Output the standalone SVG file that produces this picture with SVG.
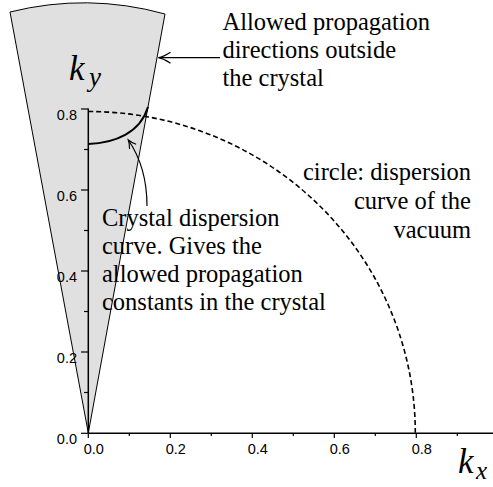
<svg xmlns="http://www.w3.org/2000/svg" width="493" height="487" viewBox="0 0 493 487">
<style>
.lbl{font-family:"Liberation Serif","Times New Roman",serif;font-size:24.5px;fill:#000}
.tick{font-family:"Liberation Sans",Arial,sans-serif;font-size:14.5px;fill:#000}
.var{font-family:"Liberation Serif","Times New Roman",serif;font-style:italic;fill:#000}
.ax{stroke:#000;stroke-width:1.5;fill:none}
.tk{stroke:#000;stroke-width:1.2;fill:none}
.conn{stroke:#000;stroke-width:1.2;fill:none}
</style>
<defs>
<marker id="arrBig" markerUnits="userSpaceOnUse" viewBox="-13 -7 15 14" refX="0" refY="0" markerWidth="15" markerHeight="14" orient="auto">
<path d="M-12,-5.5 Q-5,-1 0,0 Q-5,1 -12,5.5" fill="none" stroke="#000" stroke-width="1.3"/>
</marker>
<marker id="arrSmall" markerUnits="userSpaceOnUse" viewBox="-10 -6 12 12" refX="0" refY="0" markerWidth="12" markerHeight="12" orient="auto">
<path d="M-8,-4 Q-3,-0.8 0,0 Q-3,0.8 -8,4" fill="none" stroke="#000" stroke-width="1.1"/>
</marker>
</defs>
<rect width="493" height="487" fill="#fff"/>
<g id="wedge">
<path d="M88.3,433 L10,12 A305,305 0 0 1 165,14 Z" fill="#e0e0e0" stroke="#000" stroke-width="1"/>
</g>
<g id="axes">
<line class="ax" x1="88.3" y1="108.5" x2="88.3" y2="433"/>
<line class="ax" x1="88.3" y1="433.3" x2="493" y2="433.3"/>
<g class="tk">
<line x1="81" y1="109" x2="88.3" y2="109"/>
<line x1="84" y1="149.5" x2="88.3" y2="149.5"/>
<line x1="81" y1="190" x2="88.3" y2="190"/>
<line x1="84" y1="230.5" x2="88.3" y2="230.5"/>
<line x1="81" y1="271" x2="88.3" y2="271"/>
<line x1="84" y1="311.5" x2="88.3" y2="311.5"/>
<line x1="81" y1="352" x2="88.3" y2="352"/>
<line x1="84" y1="392.5" x2="88.3" y2="392.5"/>
<line x1="81" y1="433.3" x2="88.3" y2="433.3"/>
<line x1="88.3" y1="433.3" x2="88.3" y2="438"/>
<line x1="129.3" y1="433.3" x2="129.3" y2="436"/>
<line x1="170.3" y1="433.3" x2="170.3" y2="438"/>
<line x1="211.3" y1="433.3" x2="211.3" y2="436"/>
<line x1="252.3" y1="433.3" x2="252.3" y2="438"/>
<line x1="293.3" y1="433.3" x2="293.3" y2="436"/>
<line x1="334.3" y1="433.3" x2="334.3" y2="438"/>
<line x1="375.3" y1="433.3" x2="375.3" y2="436"/>
<line x1="416.3" y1="433.3" x2="416.3" y2="438"/>
<line x1="457.3" y1="433.3" x2="457.3" y2="436"/>
</g>
<g class="tick" text-anchor="end">
<text x="77" y="119.5">0.8</text>
<text x="77" y="200.5">0.6</text>
<text x="77" y="281.5">0.4</text>
<text x="77" y="362.5">0.2</text>
<text x="77" y="443.8">0.0</text>
</g>
<g class="tick" text-anchor="middle">
<text x="93.8" y="454">0.0</text>
<text x="175.8" y="454">0.2</text>
<text x="257.8" y="454">0.4</text>
<text x="339.8" y="454">0.6</text>
<text x="421.8" y="454">0.8</text>
</g>
<text class="var" x="69" y="79.5" font-size="35">k</text>
<text class="var" x="89" y="86" font-size="27">y</text>
<text class="var" x="458" y="473" font-size="35">k</text>
<text class="var" x="476" y="479" font-size="25">x</text>
</g>
<g id="vacuum-circle">
<path d="M88.3,111.5 A327,321.5 0 0 1 415.3,433" fill="none" stroke="#000" stroke-width="1.6" stroke-dasharray="5,3"/>
</g>
<g id="crystal-curve">
<path d="M88.3,144 C115,143 140,133 148,107" fill="none" stroke="#000" stroke-width="2"/>
</g>
<g id="connectors">
<line class="conn" x1="220" y1="57.7" x2="158.5" y2="57.7" marker-end="url(#arrBig)"/>
<path class="conn" d="M147,206 C147,178 140,157 128.3,140" marker-end="url(#arrSmall)"/>
</g>
<g id="label-outside">
<text class="lbl" x="222.5" y="29.5">Allowed propagation</text>
<text class="lbl" x="222.5" y="57.7">directions outside</text>
<text class="lbl" x="222.5" y="86">the crystal</text>
</g>
<g id="label-crystal">
<text class="lbl" x="102" y="226">Crystal dispersion</text>
<text class="lbl" x="102" y="254">curve. Gives the</text>
<text class="lbl" x="102" y="282">allowed propagation</text>
<text class="lbl" x="102" y="310">constants in the crystal</text>
</g>
<g id="label-circle" text-anchor="end">
<text class="lbl" x="471" y="180">circle: dispersion</text>
<text class="lbl" x="471" y="209">curve of the</text>
<text class="lbl" x="471" y="238">vacuum</text>
</g>
</svg>
